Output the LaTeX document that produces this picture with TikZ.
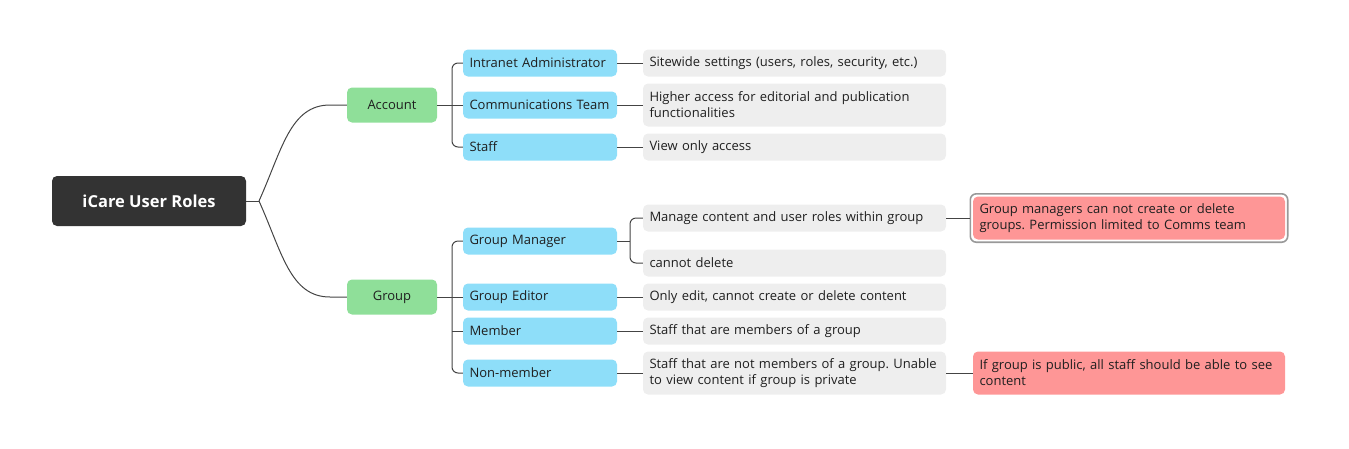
\documentclass[tikz,border=0pt]{standalone}
\usepackage{fontspec}
\setmainfont{Open Sans}
\usetikzlibrary{fit}
\frenchspacing
\definecolor{rootfill}{HTML}{333333}
\definecolor{grnfill}{HTML}{8FDF99}
\definecolor{bluefill}{HTML}{8EDEF9}
\definecolor{descfill}{HTML}{EEEEEE}
\definecolor{notefill}{HTML}{FE9696}
\definecolor{linegray}{HTML}{444444}
\begin{document}
\begin{tikzpicture}[x=1pt,y=-1pt,
  every node/.style={font=\fontsize{13}{16}\selectfont, text=black!88},
  rootbox/.style={fill=rootfill, rounded corners=5pt, text=white, font=\bfseries\fontsize{16.5}{19}\selectfont, minimum width=194pt, minimum height=50pt},
  catbox/.style={fill=grnfill, rounded corners=5pt, minimum width=90pt, minimum height=35pt},
  rolebox/.style={fill=bluefill, rounded corners=5pt, text width=141pt, inner xsep=6.5pt, inner ysep=2pt, align=left, minimum height=27pt},
  descbox/.style={fill=descfill, rounded corners=5pt, text width=290pt, inner xsep=6.5pt, inner ysep=2pt, align=left, minimum height=27pt},
  notebox/.style={fill=notefill, rounded corners=5pt, text width=299pt, inner xsep=6.5pt, inner ysep=2pt, align=left, minimum height=43pt},
  conn/.style={draw=linegray, line width=1pt}]
\useasboundingbox (0,0) rectangle (1349,448);

% root and the two categories
\node[rootbox] (root) at (149,201) {iCare User Roles};
\node[catbox] (acc) at (392,105) {Account};
\node[catbox] (grp) at (392,297) {Group};

% roles
\node[rolebox] (ia) at (540,63) {Intranet Administrator};
\node[rolebox] (ct) at (540,105) {Communications Team};
\node[rolebox] (st) at (540,147) {Staff};
\node[rolebox] (gm) at (540,241) {Group Manager};
\node[rolebox] (ge) at (540,297) {Group Editor};
\node[rolebox] (mem) at (540,331) {Member};
\node[rolebox] (nm) at (540,373) {Non-member};

% what each role can do
\node[descbox] (d1) at (794.5,63) {Sitewide settings (users, roles, security, etc.)};
\node[descbox, minimum height=43pt] (d2) at (794.5,105) {Higher access for editorial and publication\\functionalities};
\node[descbox] (d3) at (794.5,147) {View only access};
\node[descbox] (d4) at (794.5,218) {Manage content and user roles within group};
\node[descbox] (d5) at (794.5,263) {cannot delete};
\node[descbox] (d6) at (794.5,297) {Only edit, cannot create or delete content};
\node[descbox] (d7) at (794.5,331) {Staff that are members of a group};
\node[descbox, minimum height=43pt] (d8) at (794.5,373) {Staff that are not members of a group. Unable\\to view content if group is private};

% notes
\node[notebox] (n1) at (1129,218) {Group managers can not create or delete\\groups. Permission limited to Comms team};
\node[fit=(n1), inner sep=2.5pt, draw=black!40, line width=1.6pt, rounded corners=6pt] (n1frame) {};
\node[notebox] (n2) at (1129,373) {If group is public, all staff should be able to see\\content};

% connectors
\coordinate (rj) at (259,201);
\coordinate (aj) at (452,105);
\coordinate (gj) at (452,297);
\coordinate (mj) at (630,241);
\draw[conn] (root.east) -- (rj);
\draw[conn] (rj) .. controls (282,150) and (290,105) .. (330,105) -- (acc.west);
\draw[conn] (rj) .. controls (282,252) and (290,297) .. (330,297) -- (grp.west);

\draw[conn] (acc.east) -- (ct.west);
\draw[conn, rounded corners=6pt] (ia.west) -- (ia.west -| aj) -- (st.west -| aj) -- (st.west);
\draw[conn] (grp.east) -- (ge.west);
\draw[conn, rounded corners=6pt] (gm.west) -- (gm.west -| gj) -- (nm.west -| gj) -- (nm.west);
\draw[conn] (mem.west) -- (mem.west -| gj);

\draw[conn] (ia) -- (d1);
\draw[conn] (ct) -- (d2);
\draw[conn] (st) -- (d3);
\draw[conn] (gm.east) -- (mj);
\draw[conn, rounded corners=6pt] (d4.west) -- (d4.west -| mj) -- (d5.west -| mj) -- (d5.west);
\draw[conn] (ge) -- (d6);
\draw[conn] (mem) -- (d7);
\draw[conn] (nm) -- (d8);

\draw[conn] (d4.east) -- (n1frame.west);
\draw[conn] (d8) -- (n2);
\end{tikzpicture}
\end{document}
